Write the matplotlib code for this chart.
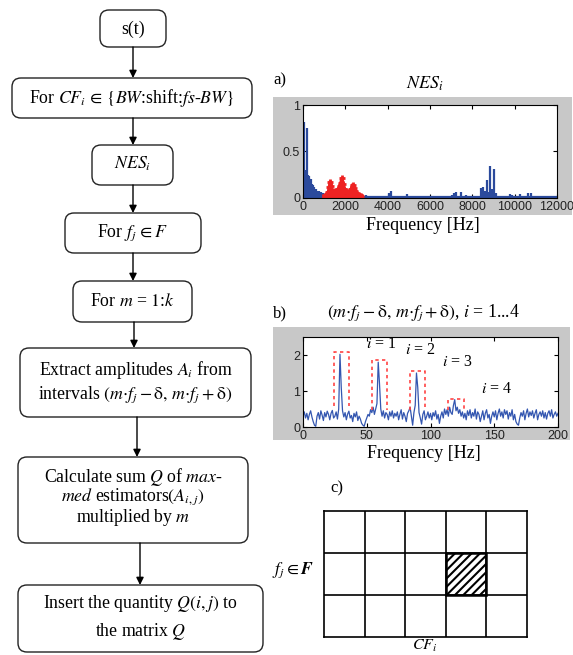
import matplotlib
matplotlib.use('Agg')
import matplotlib.pyplot as plt
from matplotlib.patches import FancyBboxPatch, Rectangle

plt.rcParams['font.family'] = ['Liberation Serif', 'DejaVu Serif']
plt.rcParams['mathtext.fontset'] = 'stix'
plt.rcParams['hatch.linewidth'] = 1.5

# ---- data -------------------------------------------------------------
# a) normalized envelope spectrum NES_i
a_freq = [40, 80, 120, 180, 220, 260, 300, 340, 380, 420, 460, 500, 540, 580,
          620, 660, 700, 750, 800, 850, 900, 950, 1000, 2800, 2900, 3000,
          3100, 3250, 3400, 3600, 3800, 4050, 4150, 4250, 4900, 5100, 5700,
          6500, 7050, 7150, 7250, 7350, 7450, 7700, 8400, 8450, 8500, 8550,
          8620, 8700, 8780, 8850, 8920, 9010, 9100, 9800, 9870, 10250, 10650,
          10720, 10780, 10900, 11500]
a_amp = [0.82, 0.30, 0.22, 0.75, 0.25, 0.22, 0.24, 0.18, 0.20, 0.15, 0.14,
         0.10, 0.12, 0.09, 0.10, 0.08, 0.06, 0.07, 0.05, 0.06, 0.04, 0.05,
         0.03, 0.03, 0.02, 0.03, 0.02, 0.02, 0.01, 0.02, 0.02, 0.05, 0.07,
         0.02, 0.04, 0.01, 0.02, 0.01, 0.03, 0.05, 0.06, 0.02, 0.06, 0.03,
         0.11, 0.07, 0.12, 0.05, 0.08, 0.19, 0.06, 0.34, 0.10, 0.31, 0.05,
         0.04, 0.03, 0.04, 0.05, 0.02, 0.05, 0.02, 0.01]
red_freq = [1050, 1100, 1150, 1200, 1250, 1290, 1330, 1380, 1430, 1480, 1530,
            1580, 1630, 1680, 1730, 1790, 1840, 1890, 1940, 1990, 2040, 2090,
            2140, 2190, 2240, 2290, 2340, 2390, 2440, 2490, 2540, 2590, 2640,
            2690, 2750]
red_amp = [0.02, 0.03, 0.04, 0.06, 0.12, 0.175, 0.13, 0.07, 0.05, 0.06, 0.08,
           0.07, 0.09, 0.10, 0.13, 0.16, 0.21, 0.15, 0.10, 0.08, 0.07, 0.06,
           0.05, 0.06, 0.08, 0.10, 0.14, 0.11, 0.07, 0.05, 0.04, 0.03, 0.03,
           0.02, 0.02]

# b) spectrum 0..200 Hz, 1 Hz step
b_amp = [0.30, 0.42, 0.25, 0.38, 0.20, 0.35, 0.45, 0.28, 0.15, 0.05,
         0.02, 0.30, 0.40, 0.22, 0.45, 0.33, 0.18, 0.40, 0.28, 0.44,
         0.35, 0.20, 0.38, 0.46, 0.25, 0.30, 0.42, 0.22, 0.50, 2.02,
         1.10, 0.45, 0.28, 0.40, 0.20, 0.36, 0.44, 0.25, 0.32, 0.15,
         0.38, 0.28, 0.42, 0.18, 0.30, 0.22, 0.10, 0.05, 0.02, 0.15,
         0.25, 0.35, 0.30, 0.48, 0.40, 0.55, 0.35, 0.50, 0.65, 1.80,
         1.20, 0.50, 0.30, 0.45, 0.25, 0.40, 0.35, 0.20, 0.42, 0.30,
         0.45, 0.25, 0.38, 0.30, 0.42, 0.20, 0.35, 0.48, 0.22, 0.40,
         0.30, 0.15, 0.38, 0.45, 0.55, 0.30, 0.05, 0.40, 0.60, 1.50,
         1.10, 0.40, 0.25, 0.08, 0.35, 0.45, 0.20, 0.30, 0.42, 0.25,
         0.38, 0.20, 0.40, 0.30, 0.45, 0.22, 0.35, 0.10, 0.30, 0.42,
         0.25, 0.50, 0.35, 0.48, 0.30, 0.55, 0.40, 0.35, 0.60, 0.76,
         0.45, 0.55, 0.38, 0.48, 0.30, 0.42, 0.25, 0.38, 0.20, 0.45,
         0.32, 0.48, 0.25, 0.40, 0.30, 0.50, 0.22, 0.42, 0.35, 0.15,
         0.30, 0.45, 0.20, 0.38, 0.48, 0.25, 0.35, 0.10, 0.30, 0.42,
         0.28, 0.45, 0.20, 0.38, 0.50, 0.30, 0.42, 0.25, 0.48, 0.35,
         0.45, 0.22, 0.40, 0.30, 0.48, 0.20, 0.35, 0.15, 0.08, 0.05,
         0.25, 0.40, 0.30, 0.45, 0.20, 0.38, 0.50, 0.28, 0.42, 0.32,
         0.45, 0.25, 0.38, 0.48, 0.20, 0.35, 0.42, 0.30, 0.45, 0.25,
         0.40, 0.22, 0.38, 0.45, 0.30, 0.48, 0.25, 0.35, 0.42, 0.30,
         0.38]
b_freq = list(range(len(b_amp)))
win_lo = [24, 54, 84, 114]
win_hi = [36, 66, 96, 126]
win_top = [2.08, 1.85, 1.55, 0.78]
win_bot = [0.58, 0.48, 0.48, 0.48]
lab_x = [61, 92, 121, 152]
lab_y = [2.30, 2.15, 1.80, 1.05]

# c) matrix Q
n_cols, n_rows = 5, 3
hatched = (3, 1)

W, H = 573, 655
fig = plt.figure(figsize=(W / 100, H / 100), dpi=100)

def rect(x0, y0, x1, y1):
    return [x0 / W, 1 - y1 / H, (x1 - x0) / W, (y1 - y0) / H]

ov = fig.add_axes([0, 0, 1, 1])
ov.set_xlim(0, W)
ov.set_ylim(H, 0)
ov.axis('off')

# ---- flowchart --------------------------------------------------------
boxes = [
    (100, 10, 166, 47, [("s(t)", 29)]),
    (12, 78, 252, 118, [(r"For $CF_i\,\in\,\{BW$:shift:$fs$-$BW\}$", 98)]),
    (92, 145, 173, 185, [(r"$NES_i$", 164)]),
    (65, 213, 201, 253, [(r"For $f_j\,\in F$", 233)]),
    (73, 281, 192, 322, [(r"For $m$ = $\mathit{1}$:$k$", 301)]),
    (20, 348, 251, 417, [(r"Extract amplitudes $A_i$ from", 370),
                         (r"intervals $(m{\cdot}f_j - \mathrm{\delta},\, m{\cdot}f_j + \mathrm{\delta})$", 395)]),
    (18, 457, 248, 543, [(r"Calculate sum $Q$ of $max$-", 477),
                         (r"$med$ estimators$(A_{i,j})$", 497),
                         (r"multiplied by $m$", 518)]),
    (18, 585, 263, 652, [(r"Insert the quantity $Q(i,j)$ to", 604),
                         (r"the matrix $Q$", 631)]),
]
for x0, y0, x1, y1, lines in boxes:
    ov.add_patch(FancyBboxPatch((x0, y0), x1 - x0, y1 - y0,
                                boxstyle="round,pad=0,rounding_size=9",
                                fc='white', ec='#222222', lw=1.0))
    for txt, ty in lines:
        ov.text((x0 + x1) / 2, ty, txt, ha='center', va='center', fontsize=12.8)

arrow_x = [133, 133, 133, 133, 134, 137, 140]
for k in range(len(boxes) - 1):
    ov.annotate('', xy=(arrow_x[k], boxes[k + 1][1]), xytext=(arrow_x[k], boxes[k][3]),
                arrowprops=dict(arrowstyle='-|>', color='black', lw=1.0,
                                mutation_scale=11, shrinkA=0, shrinkB=0))

# gray backgrounds of the MATLAB figures
ov.add_patch(Rectangle((273, 97), 299, 118, fc='#c8c8c8', ec='none'))
ov.add_patch(Rectangle((273, 327), 297, 113, fc='#c8c8c8', ec='none'))

ov.text(273, 80, "a)", fontsize=12, va='center')
ov.text(425, 84, r"$NES_i$", fontsize=13, ha='center', va='center')
ov.text(423, 226, "Frequency [Hz]", fontsize=13, ha='center', va='center')
ov.text(273, 313, "b)", fontsize=12, va='center')
ov.text(423, 313, r"$(m{\cdot}f_j - \mathrm{\delta},\, m{\cdot}f_j + \mathrm{\delta})$, $i$ = 1...4",
        fontsize=12.8, ha='center', va='center')
ov.text(424, 453, "Frequency [Hz]", fontsize=13, ha='center', va='center')
ov.text(330, 488, "c)", fontsize=12, va='center')
ov.text(293, 570, r"$f_j \in \boldsymbol{F}$", fontsize=12.5, ha='center', va='center')
ov.text(425, 646, r"$CF_i$", fontsize=11.5, ha='center', va='center')

def matlab_axes(ax):
    ax.tick_params(direction='in', top=True, right=True, length=3, width=0.8,
                   labelsize=9, labelcolor='#222222', pad=2)
    for lab in ax.get_xticklabels() + ax.get_yticklabels():
        lab.set_family('Liberation Sans')
    for s in ax.spines.values():
        s.set_linewidth(0.8)

# ---- a) ---------------------------------------------------------------
axa = fig.add_axes(rect(303, 105, 557, 198))
axa.vlines(a_freq, 0, a_amp, color='#2b4a9c', lw=1.6)
axa.plot([0, 12000], [0.006, 0.006], color='#2b4a9c', lw=1.6)
axa.fill_between(red_freq, 0, red_amp, color='#ee2222', lw=0)
axa.plot(red_freq, red_amp, color='#ee2222', lw=2.5, marker='+', ms=5, mew=2)
axa.plot([red_freq[0], red_freq[-1]], [0.01, 0.01], color='#ee2222', lw=4)
axa.set_xlim(0, 12000)
axa.set_ylim(0, 1)
axa.set_xticks(range(0, 12001, 2000))
axa.set_yticks([0, 0.5, 1])
axa.set_yticklabels(['0', '0.5', '1'])
matlab_axes(axa)

# ---- b) ---------------------------------------------------------------
axb = fig.add_axes(rect(303, 337, 558, 427))
axb.plot(b_freq, b_amp, color='#3356b0', lw=0.9)
for lo, hi, top, bot in zip(win_lo, win_hi, win_top, win_bot):
    axb.plot([lo, lo, hi, hi], [bot, top, top, bot], color='#ff4444',
             ls=(0, (2, 2)), lw=1.2)
for k, (lx, ly) in enumerate(zip(lab_x, lab_y)):
    axb.text(lx, ly, rf"$i$ = {k + 1}", fontsize=11.5, ha='center', va='center')
axb.set_xlim(0, 200)
axb.set_ylim(0, 2.5)
axb.set_xticks([0, 50, 100, 150, 200])
axb.set_yticks([0, 1, 2])
matlab_axes(axb)

# ---- c) ---------------------------------------------------------------
axc = fig.add_axes(rect(324, 511, 527, 637))
axc.set_xlim(0, n_cols)
axc.set_ylim(0, n_rows)
for c in range(1, n_cols):
    axc.axvline(c, color='black', lw=1.2)
for r in range(1, n_rows):
    axc.axhline(r, color='black', lw=1.2)
axc.add_patch(Rectangle(hatched, 1, 1, fc='white', ec='black', lw=1.8, hatch='////'))
axc.set_xticks([])
axc.set_yticks([])
for s in axc.spines.values():
    s.set_linewidth(1.2)

fig.savefig('out.png', dpi=100)
